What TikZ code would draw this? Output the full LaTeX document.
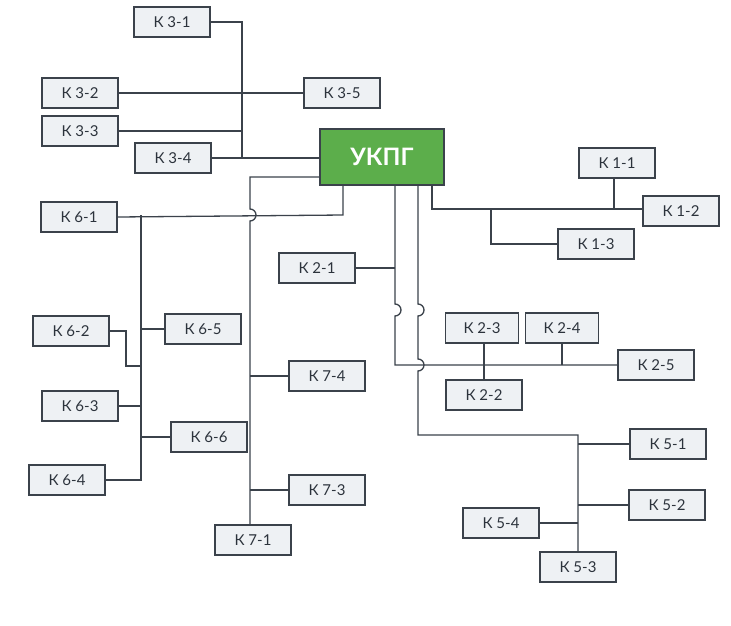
\documentclass[tikz,border=0pt]{standalone}
\usepackage{fontspec}
\setmainfont{Lato}
\begin{document}
\begin{tikzpicture}[x=1pt,y=-1pt,
 bx/.style={draw=linec,line width=1.2pt,fill=boxf,minimum width=76pt,minimum height=30pt,inner sep=0pt,font=\fontsize{15}{15}\selectfont,text=txt},
 ln/.style={draw=linec,line width=1.3pt}]
\definecolor{linec}{HTML}{3B424B}
\definecolor{boxf}{HTML}{EEF1F4}
\definecolor{txt}{HTML}{2C333C}
\definecolor{grn}{HTML}{5CAE4B}
\useasboundingbox (0,0) rectangle (731,625);
\node[bx] (k31) at (172,22) {К 3-1};
\node[bx] (k32) at (80,93) {К 3-2};
\node[bx] (k35) at (342,93) {К 3-5};
\node[bx] (k33) at (80,131) {К 3-3};
\node[bx] (k34) at (173,158) {К 3-4};
\node[draw=linec,line width=1.2pt,fill=grn,minimum width=124pt,minimum height=56pt,text=white,font=\fontsize{24}{24}\selectfont\bfseries] (u) at (382,157) {УКПГ};
\node[bx] (k11) at (617,163) {К 1-1};
\node[bx] (k12) at (681,211) {К 1-2};
\node[bx] (k13) at (596,244) {К 1-3};
\node[bx] (k61) at (79,217) {К 6-1};
\node[bx] (k21) at (317,268) {К 2-1};
\node[bx] (k62) at (71,331) {К 6-2};
\node[bx] (k65) at (203,329) {К 6-5};
\node[bx,minimum width=73pt] (k23) at (482,328) {К 2-3};
\node[bx,minimum width=73pt] (k24) at (562,328) {К 2-4};
\node[bx] (k25) at (656,365) {К 2-5};
\node[bx] (k74) at (327,376) {К 7-4};
\node[bx] (k22) at (484,395) {К 2-2};
\node[bx] (k63) at (80,406) {К 6-3};
\node[bx] (k66) at (209,437) {К 6-6};
\node[bx] (k51) at (668,444) {К 5-1};
\node[bx] (k64) at (67,480) {К 6-4};
\node[bx] (k73) at (327,490) {К 7-3};
\node[bx] (k52) at (667,505) {К 5-2};
\node[bx] (k54) at (501,523) {К 5-4};
\node[bx] (k71) at (253,540) {К 7-1};
\node[bx] (k53) at (578,567) {К 5-3};
\begin{scope}[ln]
% K3
\draw (k31.east) -| (242,158);
\draw (k32.east) -- (k35.west);
\draw (k33.east) -- (242,131);
\draw (k34.east) -- (u.west |- 0,158);
% K7
\draw (u.west |- 0,177) -- (250,177) -- (250,209) arc(-90:90:6) -- (k71.north -| 250,0);
\draw (250,376) -- (k74.west);
\draw (250,490) -- (k73.west);
% K6
\draw (u.south -| 343,0) -- (343,215) -- (k61.east);
\draw (141,215) -- (141,480) -- (k64.east);
\draw (141,329) -- (k65.west);
\draw (k62.east) -| (126,366) -- (141,366);
\draw (k63.east) -- (141,406);
\draw (141,437) -- (k66.west);
% K2
\draw (u.south -| 395,0) -- (395,304) arc(-90:90:6) -- (395,365) -- (k25.west);
\draw (k21.east) -- (395,268);
\draw (k23.south -| 484,0) -- (k22.north -| 484,0);
\draw (k24.south -| 562,0) -- (562,365);
% K5
\draw (u.south -| 418,0) -- (418,304) arc(-90:90:6) -- (418,359) arc(-90:90:6) -- (418,435) -- (578,435) -- (k53.north -| 578,0);
\draw (578,444) -- (k51.west);
\draw (578,505) -- (k52.west);
\draw (k54.east) -- (578,523);
% K1
\draw (u.south -| 432,0) -- (432,209) -- (k12.west |- 0,209);
\draw (k11.south -| 614,0) -- (614,209);
\draw (491,209) |- (k13.west);
\end{scope}
\end{tikzpicture}
\end{document}
